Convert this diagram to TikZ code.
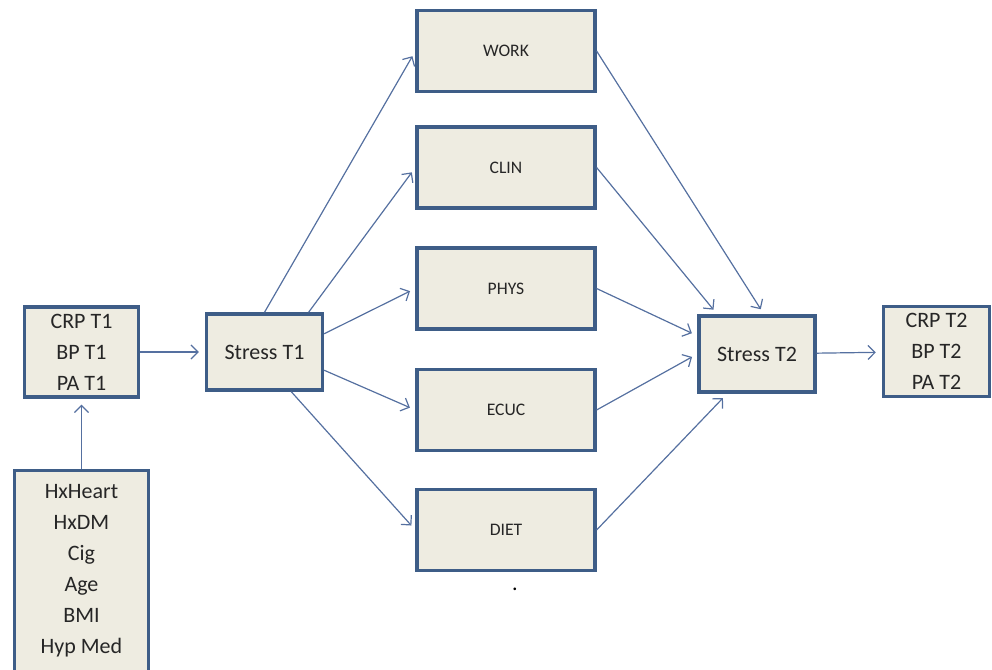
\documentclass[tikz,border=0pt]{standalone}
\usepackage{fontspec}
\setmainfont{Carlito}
\usetikzlibrary{arrows.meta}
\definecolor{boxfill}{HTML}{EEECE1}
\definecolor{boxline}{HTML}{3E5D87}
\definecolor{linkline}{HTML}{5570A0}

\begin{document}
\begin{tikzpicture}[x=0.5pt, y=-0.5pt,
  bigbox/.style={draw=boxline, line width=1.7pt, fill=boxfill, align=center, inner sep=1pt,
    font=\fontsize{11}{15.5}\selectfont, text=black!85},
  midbox/.style={draw=boxline, line width=1.6pt, fill=boxfill, minimum width=89pt,
    minimum height=40.5pt, font=\fontsize{8.8}{10}\selectfont, text=black!85},
  link/.style={draw=linkline, line width=0.6pt, -{Straight Barb[length=3.5pt,width=7pt]}, shorten >=3pt}]
\useasboundingbox (0,0) rectangle (992,670);

% Time 1
\node[bigbox, minimum width=57pt, minimum height=45pt] (t1) at (81.5,352) {CRP T1\\BP T1\\PA T1};
\node[bigbox, minimum width=58pt, minimum height=38pt] (s1) at (264.5,352) {Stress T1};

% Covariates (box runs off the bottom)
\node[bigbox, minimum width=67pt, minimum height=120pt, anchor=north] (cov) at (81.5,469) {};
\node[bigbox, draw=none, fill=none] (covtext) at (81.5,570.5) {HxHeart\\HxDM\\Cig\\Age\\BMI\\Hyp Med};

% Mediators
\foreach \nm/\y in {work/51, clin/167.5, phys/288.5, ecuc/410, diet/530}
  \node[midbox] (\nm) at (506,\y) {\MakeUppercase{\nm}};

% Time 2
\node[bigbox, minimum width=58pt, minimum height=38pt] (s2) at (757,354) {Stress T2};
\node[bigbox, minimum width=53pt, minimum height=45pt] (t2) at (936.5,351.5) {CRP T2\\BP T2\\PA T2};

% Stray dot
\node[font=\fontsize{11}{13}\selectfont, anchor=base, inner sep=0pt] (dot) at (515,590) {.};

% Paths
\draw[link] (cov) -- (t1);
\draw[link] (t1) -- (s1);
\draw[link] (s1.north) -- (work.west);
\draw[link] (s1.42) -- (clin.west);
\draw[link] (s1.17) -- (phys.west);
\draw[link] (s1.-17) -- (ecuc.west);
\draw[link] (s1.-56) -- (diet.west);
\draw[link] (work.east) -- (s2.80);
\draw[link] (clin.east) -- (s2.135);
\draw[link] (phys.east) -- (s2.163);
\draw[link] (ecuc.east) -- (s2.west);
\draw[link] (diet.east) -- (s2.233);
\draw[link] (s2) -- (t2);
\end{tikzpicture}
\end{document}
